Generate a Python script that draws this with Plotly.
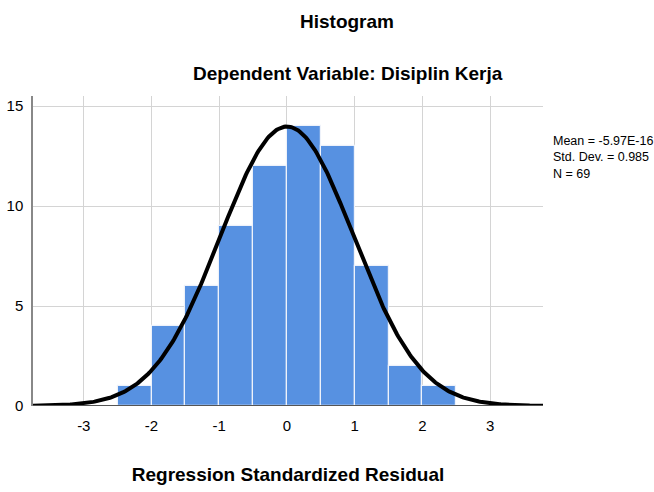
import numpy as np
import plotly.graph_objects as go

bin_centers = [-2.25, -1.75, -1.25, -0.75, -0.25, 0.25, 0.75, 1.25, 1.75, 2.25]
counts = [1, 4, 6, 9, 12, 14, 13, 7, 2, 1]
bin_width = 0.5
mean = -5.97e-16
std = 0.985
n = 69
x_ticks = [-3, -2, -1, 0, 1, 2, 3]
y_ticks = [0, 5, 10, 15]

xs = np.linspace(-3.75, 3.8, 400)
ys = n * bin_width / (std * np.sqrt(2 * np.pi)) * np.exp(-0.5 * ((xs - mean) / std) ** 2)

fig = go.Figure()
fig.add_trace(go.Bar(x=bin_centers, y=counts, width=bin_width,
                     marker=dict(color="#5791e1", line=dict(color="#eef2fa", width=1.2)),
                     hoverinfo="skip"))
fig.add_trace(go.Scatter(x=xs, y=ys, mode="lines",
                         line=dict(color="black", width=4), hoverinfo="skip"))

font = "Liberation Sans, Arial, sans-serif"
fig.update_layout(
    width=654, height=492,
    margin=dict(l=33, r=111, t=96, b=86),
    paper_bgcolor="white", plot_bgcolor="white",
    showlegend=False, bargap=0,
    font=dict(family=font, color="black"),
    xaxis=dict(range=[-3.75, 3.78], tickvals=x_ticks, ticktext=[str(v) for v in x_ticks],
               showgrid=True, gridcolor="#d4d4d4", gridwidth=1, zeroline=False, automargin=False,
               showline=False, ticks="", tickfont=dict(size=15), ticklabelstandoff=9,
               title=dict(text="<b>Regression Standardized Residual</b>", font=dict(size=19), standoff=34)),
    yaxis=dict(range=[0, 15.5], tickvals=y_ticks, ticktext=[str(v) for v in y_ticks],
               showgrid=True, gridcolor="#d4d4d4", gridwidth=1, zeroline=False, automargin=False,
               showline=True, linecolor="#888888", linewidth=1.5, ticks="",
               tickfont=dict(size=15), ticklabelstandoff=5),
)
fig.add_shape(type="line", xref="paper", yref="y", x0=0, x1=1, y0=0, y1=0,
              line=dict(color="#555555", width=2))
fig.add_annotation(text="<b>Histogram</b>", xref="paper", yref="paper", x=(347 - 33) / 510, y=1,
                   yshift=96 - 21, showarrow=False, font=dict(size=19), yanchor="middle", xanchor="center")
fig.add_annotation(text="<b>Dependent Variable: Disiplin Kerja</b>", xref="paper", yref="paper",
                   x=(348 - 33) / 510, y=1,
                   yshift=96 - 73, showarrow=False, font=dict(size=19), yanchor="middle", xanchor="center")
fig.add_annotation(text="Mean = -5.97E-16<br>Std. Dev. = 0.985<br>N = 69", xref="paper", yref="paper",
                   x=1, xshift=551 - 543, y=1, yshift=96 - 157, xanchor="left", yanchor="middle",
                   align="left", showarrow=False, font=dict(size=12.5))

fig.write_html("out.html", post_script="document.body.style.margin='0';",
               config={"displayModeBar": False})
